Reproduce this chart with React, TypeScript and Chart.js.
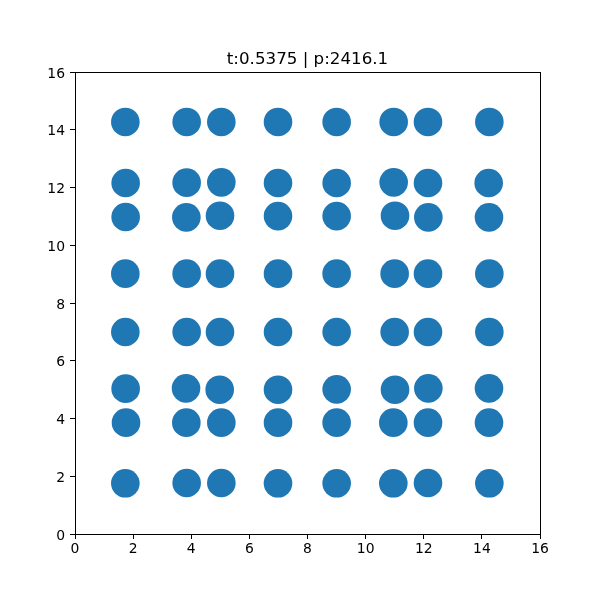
import React, { useEffect, useRef } from "react";
import { Chart, registerables } from "chart.js";

Chart.register(...registerables);

const TITLE = "t:0.5375 | p:2416.1";

// Point coordinates, row by row (bottom to top)
const xValues: number[] = [
  1.732, 3.842, 5.035, 6.985, 9.003, 10.953, 12.146, 14.257,
  1.755, 3.831, 5.035, 6.985, 9.003, 10.953, 12.146, 14.245,
  1.743, 3.82, 4.978, 6.985, 9.003, 11.011, 12.158, 14.245,
  1.732, 3.842, 4.989, 6.985, 9.003, 10.999, 12.146, 14.257,
  1.732, 3.842, 4.989, 6.985, 9.003, 10.999, 12.146, 14.257,
  1.743, 3.831, 4.989, 6.985, 9.003, 11.011, 12.158, 14.245,
  1.743, 3.842, 5.035, 6.985, 9.003, 10.965, 12.146, 14.234,
  1.732, 3.842, 5.035, 6.985, 9.003, 10.965, 12.146, 14.257,
];

const yValues: number[] = [
  1.755, 1.766, 1.766, 1.755, 1.755, 1.755, 1.766, 1.755,
  3.856, 3.856, 3.856, 3.856, 3.856, 3.856, 3.856, 3.856,
  5.033, 5.045, 4.998, 4.998, 5.01, 4.998, 5.045, 5.045,
  6.996, 6.996, 6.996, 6.996, 6.996, 6.996, 6.996, 6.996,
  9.016, 9.016, 9.016, 9.016, 9.016, 9.016, 9.016, 9.016,
  10.978, 10.967, 11.024, 11.01, 11.01, 11.024, 10.967, 10.967,
  12.156, 12.168, 12.179, 12.156, 12.156, 12.179, 12.156, 12.156,
  14.27, 14.27, 14.27, 14.27, 14.27, 14.27, 14.27, 14.27,
];

const X_TICKS = [0, 2, 4, 6, 8, 10, 12, 14, 16];
const Y_TICKS = [0, 2, 4, 6, 8, 10, 12, 14, 16];

export default function App() {
  const ref = useRef<HTMLCanvasElement | null>(null);

  useEffect(() => {
    document.body.style.margin = "0";
    const canvas = ref.current;
    if (!canvas) return;

    const framePlugin = {
      id: "frameAndTitle",
      afterDraw(chart: any) {
        const { ctx, chartArea } = chart;
        ctx.save();
        ctx.strokeStyle = "#000";
        ctx.lineWidth = 1;
        ctx.strokeRect(
          Math.round(chartArea.left) + 0.5,
          Math.round(chartArea.top) + 0.5,
          Math.round(chartArea.right - chartArea.left),
          Math.round(chartArea.bottom - chartArea.top)
        );
        ctx.fillStyle = "#000";
        ctx.font = "16.7px 'DejaVu Sans'";
        ctx.textAlign = "center";
        ctx.textBaseline = "alphabetic";
        ctx.fillText(TITLE, (chartArea.left + chartArea.right) / 2, chartArea.top - 8);
        ctx.restore();
      },
    };

    const points = xValues.map((x, i) => ({ x, y: yValues[i] }));

    const tickFont = { family: "'DejaVu Sans'", size: 13.9 };

    const chart = new Chart(canvas, {
      type: "scatter",
      data: {
        datasets: [
          {
            data: points,
            backgroundColor: "#1f77b4",
            borderWidth: 0,
            pointRadius: 14.3,
            pointHoverRadius: 14.3,
          },
        ],
      },
      options: {
        animation: false,
        responsive: false,
        maintainAspectRatio: false,
        events: [],
        layout: { padding: { top: 72, right: 60, left: 0, bottom: 0 } },
        plugins: {
          legend: { display: false },
          title: { display: false },
          tooltip: { enabled: false },
        },
        scales: {
          x: {
            type: "linear",
            min: 0,
            max: 16,
            afterFit(scale: any) {
              scale.height = 66;
            },
            afterBuildTicks(scale: any) {
              scale.ticks = X_TICKS.map((v) => ({ value: v }));
            },
            grid: {
              drawOnChartArea: false,
              drawTicks: true,
              tickLength: 5,
              tickColor: "#000",
            },
            border: { display: true, color: "#000" },
            ticks: {
              color: "#000",
              font: tickFont,
              padding: 2,
              autoSkip: false,
              maxRotation: 0,
            },
          },
          y: {
            type: "linear",
            min: 0,
            max: 16,
            afterFit(scale: any) {
              scale.width = 75;
            },
            afterBuildTicks(scale: any) {
              scale.ticks = Y_TICKS.map((v) => ({ value: v }));
            },
            grid: {
              drawOnChartArea: false,
              drawTicks: true,
              tickLength: 5,
              tickColor: "#000",
            },
            border: { display: true, color: "#000" },
            ticks: {
              color: "#000",
              font: tickFont,
              padding: 5,
              labelOffset: 2,
              autoSkip: false,
            },
          },
        },
      },
      plugins: [framePlugin],
    } as any);

    return () => chart.destroy();
  }, []);

  return (
    <div style={{ width: 600, height: 600, background: "#fff" }}>
      <canvas ref={ref} width={600} height={600} style={{ display: "block" }} />
    </div>
  );
}
